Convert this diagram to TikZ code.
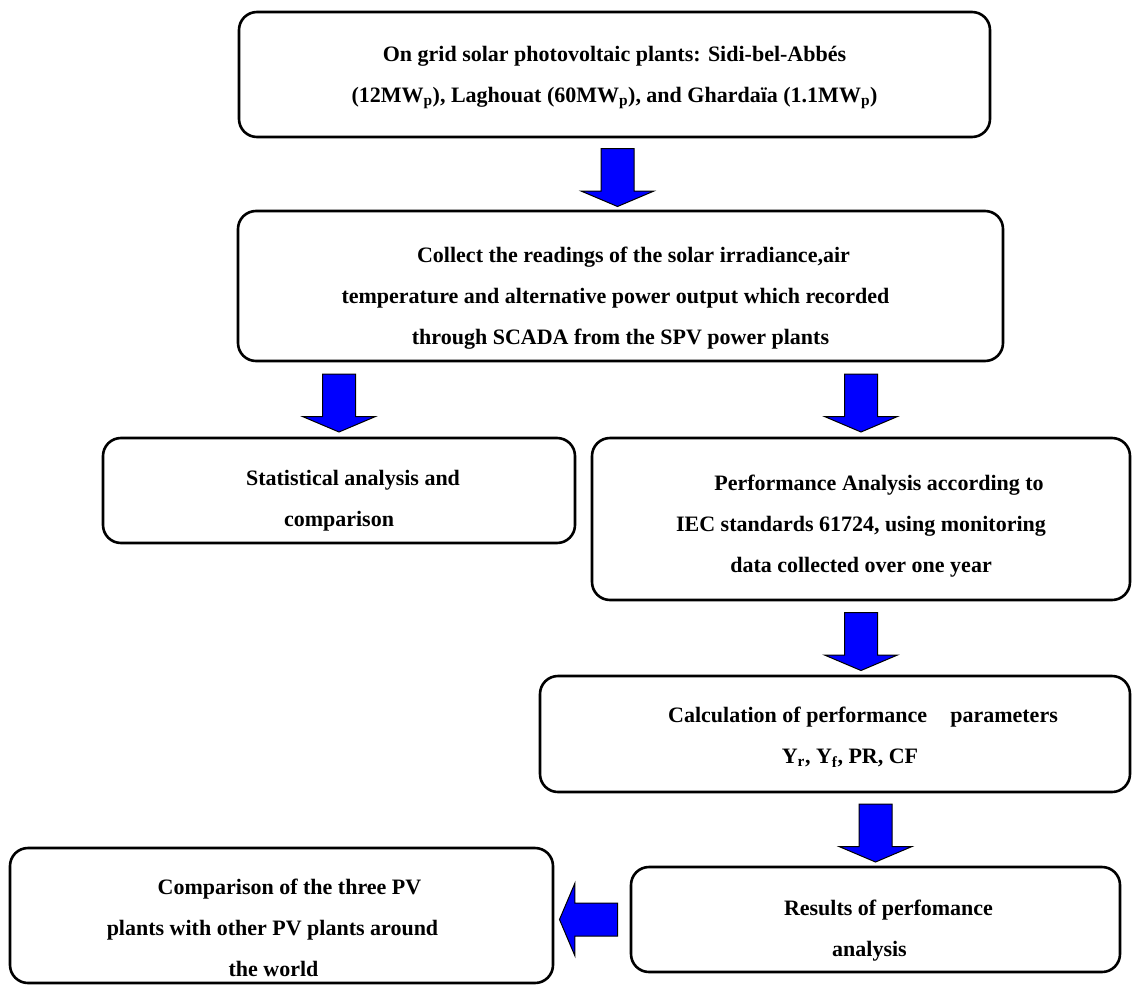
\documentclass[tikz,border=0pt]{standalone}
\usepackage{fontspec}
\setmainfont{Liberation Serif}
\usepackage{tikz}
\usetikzlibrary{shapes.arrows, positioning, calc}
\definecolor{cArrow}{RGB}{0,0,255}
\newcommand{\topgap}[1]{\rule{0pt}{#1}}
\tikzset{
	stepbox/.style ={rectangle, rounded corners=18pt, draw=black, line width=2.6pt, fill=white, align=center, inner sep=0pt, font=\fontsize{22}{41}\selectfont\bfseries},
	% block arrows between the boxes
	bigarrow/.style={single arrow, draw=black, line width=1pt, fill=cArrow, minimum width=72pt, minimum height=58pt, single arrow head extend=20pt, single arrow tip angle=134, inner xsep=0pt, inner ysep=16pt},
	downarrow/.style={bigarrow, rotate=-90},
	leftarrow/.style={bigarrow, rotate=180},
}

\begin{document}
\begin{tikzpicture}[x=1pt, y=-1pt]
	\useasboundingbox (0,0) rectangle (1132,985);
	% boxes
	\node[stepbox, minimum width=751pt, minimum height=125pt] (sites) at (614.5,74.5)
		{\topgap{22pt}On grid solar photovoltaic plants: Sidi-bel-Abbés\\
		(12MW\textsubscript{p}), Laghouat (60MW\textsubscript{p}), and Ghardaïa (1.1MW\textsubscript{p})};
	\node[stepbox, minimum width=765pt, minimum height=150pt] (collect) at (620.5,286)
		{\topgap{40pt}\hspace*{26pt}Collect the readings of the solar irradiance,air\\
		\hspace*{-10pt}temperature and alternative power output which recorded\\
		through SCADA from the SPV power plants};
	\node[stepbox, minimum width=472pt, minimum height=105pt] (stat) at (339,490.5)
		{\topgap{36pt}\hspace*{28pt}Statistical analysis and\\ comparison};
	\node[stepbox, minimum width=538pt, minimum height=162pt] (perf) at (861,519)
		{\topgap{30pt}\hspace*{36pt}Performance Analysis according to\\
		IEC standards 61724, using monitoring\\
		data collected over one year};
	\node[stepbox, minimum width=590pt, minimum height=116pt] (param) at (835,734)
		{\topgap{22pt}\hspace*{56pt}Calculation of performance\hspace{0.8em} parameters\\
		\hspace*{30pt}Y\textsubscript{r}, Y\textsubscript{f}, PR, CF};
	\node[stepbox, minimum width=489pt, minimum height=105pt] (results) at (875.5,919.5)
		{\topgap{38pt}\hspace*{26pt}Results of perfomance\\ \hspace*{-12pt}analysis};
	\node[stepbox, minimum width=543pt, minimum height=135pt] (compare) at (281.5,915.5)
		{\topgap{40pt}\hspace*{16pt}Comparison of the three PV\\
		\hspace*{-18pt}plants with other PV plants around\\
		\hspace*{-16pt}the world};
	% arrows
	\node[downarrow] (arrow1) at ($(sites.south)!.5!(collect.north)$) {};
	\node[downarrow] (arrow2) at ($(collect.south -| stat.north)!.5!(stat.north)$) {};
	\node[downarrow] (arrow3) at ($(collect.south -| perf.north)!.5!(perf.north)$) {};
	\node[downarrow] (arrow4) at ($(perf.south)!.5!(perf.south |- param.north)$) {};
	\node[downarrow] (arrow5) at ($(param.south -| results.north)!.5!(results.north)$) {};
	\node[leftarrow] (arrow6) at ($(results.west)!.5!(compare.east |- results.west)$) {};
\end{tikzpicture}
\end{document}
